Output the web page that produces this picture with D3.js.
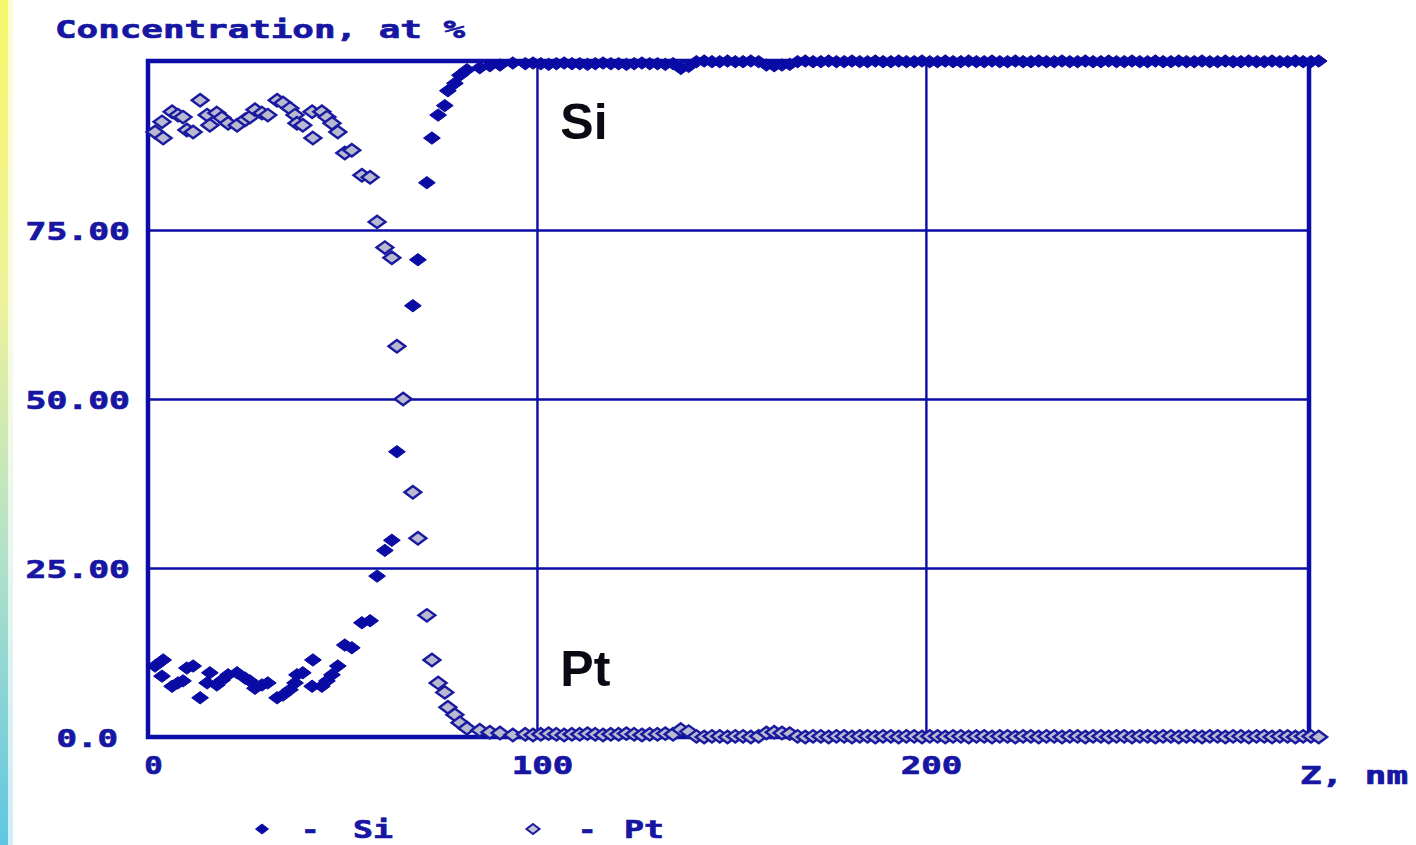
<!DOCTYPE html>
<html>
<head>
<meta charset="utf-8">
<script src="https://cdn.jsdelivr.net/npm/d3@7"></script>
<style>
  html, body { margin: 0; padding: 0; background: #ffffff; }
  svg { display: block; }
</style>
</head>
<body>
<svg id="chart" width="1416" height="845"></svg>
<script>
// Sputter depth profile of a Pt film on Si: depth (nm) and atomic concentration (at %)
const depthNm = [
  1.8, 3.6, 3.9, 6.2, 7.7, 9.0, 10.0, 11.6, 13.4, 15.2, 15.9, 17.7, 19.0, 20.6, 22.9,
  25.0, 26.2, 27.5, 29.3, 30.8, 33.2, 34.7, 36.5, 37.8, 38.3, 39.8, 42.2, 42.4, 44.7,
  46.0, 47.3, 48.8, 50.6, 52.4, 55.0, 57.1, 58.9, 60.9, 62.7, 64.0, 65.6, 68.1, 69.4,
  71.7, 73.0, 74.6, 76.3, 77.1, 78.9, 80.2, 82.0, 85.3, 87.9, 90.5, 93.8,
  97, 99, 101, 103, 105, 107, 109, 111, 113, 115, 117, 119, 121, 123, 125, 127, 129, 131, 133, 135,
  137, 139,
  141, 143, 145, 147, 149, 151, 153, 155, 157,
  159, 161, 163, 165,
  167, 169, 171, 173, 175, 177, 179, 181, 183, 185, 187, 189, 191, 193, 195, 197, 199,
  201, 203, 205, 207, 209, 211, 213, 215, 217, 219, 221, 223, 225, 227, 229, 231, 233,
  235, 237, 239, 241, 243, 245, 247, 249, 251, 253, 255, 257, 259, 261, 263, 265, 267,
  269, 271, 273, 275, 277, 279, 281, 283, 285, 287, 289, 291, 293, 295, 297, 299, 301
];

const siAt = [
  10.5, 9.0, 11.4, 7.5, 8.0, 8.3, 10.2, 10.5, 5.8, 8.0, 9.5, 7.7, 8.4, 9.2, 9.5,
  8.7, 8.3, 7.2, 7.7, 8.0, 5.8, 6.2, 7.0, 8.0, 9.2, 9.5, 7.5, 11.4, 7.5,
  8.3, 9.2, 10.5, 13.6, 13.2, 16.9, 17.2, 23.8, 27.6, 29.1, 42.2, 50.0, 63.8, 70.6,
  82.0, 88.6, 92.0, 93.4, 95.6, 96.7, 97.9, 98.7, 99.0, 99.3, 99.4, 99.7,
  99.6, 99.7, 99.6, 99.5, 99.6, 99.7, 99.6, 99.6, 99.5, 99.6, 99.7, 99.6, 99.6, 99.5, 99.6, 99.7, 99.6, 99.6, 99.5, 99.6,
  98.9, 99.2,
  99.9, 100.0, 99.9, 99.9, 100.0, 99.9, 99.9, 100.0, 99.9,
  99.4, 99.3, 99.4, 99.5,
  99.9, 100.0, 99.9, 99.9, 100.0, 99.9, 99.9, 100.0, 99.9, 99.9, 100.0, 99.9, 99.9, 100.0, 99.9, 99.9, 100.0,
  99.9, 99.9, 100.0, 99.9, 99.9, 100.0, 99.9, 99.9, 100.0, 99.9, 99.9, 100.0, 99.9, 99.9, 100.0, 99.9, 99.9,
  100.0, 99.9, 99.9, 100.0, 99.9, 99.9, 100.0, 99.9, 99.9, 100.0, 99.9, 99.9, 100.0, 99.9, 99.9, 100.0, 99.9,
  99.9, 100.0, 99.9, 99.9, 100.0, 99.9, 99.9, 100.0, 99.9, 99.9, 100.0, 99.9, 99.9, 100.0, 99.9, 99.9, 100.0
];

const ptAt = [
  89.5, 91.0, 88.6, 92.5, 92.0, 91.7, 89.8, 89.5, 94.2, 92.0, 90.5, 92.3, 91.6, 90.8, 90.5,
  91.3, 91.7, 92.8, 92.3, 92.0, 94.2, 93.8, 93.0, 92.0, 90.8, 90.5, 92.5, 88.6, 92.5,
  91.7, 90.8, 89.5, 86.4, 86.8, 83.1, 82.8, 76.2, 72.4, 70.9, 57.8, 50.0, 36.2, 29.4,
  18.0, 11.4, 8.0, 6.6, 4.4, 3.3, 2.1, 1.3, 1.0, 0.7, 0.6, 0.3,
  0.4, 0.3, 0.4, 0.5, 0.4, 0.3, 0.4, 0.4, 0.5, 0.4, 0.3, 0.4, 0.4, 0.5, 0.4, 0.3, 0.4, 0.4, 0.5, 0.4,
  1.1, 0.8,
  0.1, 0.0, 0.1, 0.1, 0.0, 0.1, 0.1, 0.0, 0.1,
  0.6, 0.7, 0.6, 0.5,
  0.1, 0.0, 0.1, 0.1, 0.0, 0.1, 0.1, 0.0, 0.1, 0.1, 0.0, 0.1, 0.1, 0.0, 0.1, 0.1, 0.0,
  0.1, 0.1, 0.0, 0.1, 0.1, 0.0, 0.1, 0.1, 0.0, 0.1, 0.1, 0.0, 0.1, 0.1, 0.0, 0.1, 0.1,
  0.0, 0.1, 0.1, 0.0, 0.1, 0.1, 0.0, 0.1, 0.1, 0.0, 0.1, 0.1, 0.0, 0.1, 0.1, 0.0, 0.1,
  0.1, 0.0, 0.1, 0.1, 0.0, 0.1, 0.1, 0.0, 0.1, 0.1, 0.0, 0.1, 0.1, 0.0, 0.1, 0.1, 0.0
];

const yTicks = [0, 25, 50, 75];
const yTickLabels = ["0.0", "25.00", "50.00", "75.00"];
const xTicks = [0, 100, 200];
const xTickLabels = ["0", "100", "200"];
const gridX = [100, 200];
const gridY = [25, 50, 75];

const titleText = "Concentration, at %";
const xAxisTitle = "Z, nm";
const seriesNames = ["Si", "Pt"];

// ---- drawing ----
const ink = "#1616a2";
const frame = "#0c0ca6";
const mono = "'DejaVu Sans Mono', 'Liberation Mono', monospace";
const pitch = 21.5;

const svg = d3.select("#chart");

// coloured strip along the left edge
const defs = svg.append("defs");
const strip = defs.append("linearGradient").attr("id", "strip")
  .attr("x1", 0).attr("y1", 0).attr("x2", 0).attr("y2", 1);
strip.append("stop").attr("offset", "0%").attr("stop-color", "#f7f76a");
strip.append("stop").attr("offset", "35%").attr("stop-color", "#eef29a");
strip.append("stop").attr("offset", "65%").attr("stop-color", "#b4e2c8");
strip.append("stop").attr("offset", "100%").attr("stop-color", "#5ec6e2");
svg.append("rect").attr("x", 0).attr("y", 0).attr("width", 8).attr("height", 845).attr("fill", "url(#strip)");
svg.append("rect").attr("x", 8).attr("y", 0).attr("width", 5).attr("height", 845).attr("fill", "url(#strip)").attr("opacity", 0.3);

const x = d3.scaleLinear().domain([0, 298.5]).range([148, 1309]);
const y = d3.scaleLinear().domain([0, 100]).range([737, 61]);

const plotW = x(298.5) - x(0);
const plotH = y(0) - y(100);

// grid lines
const gx = svg.append("g").attr("transform", `translate(0,${y(0)})`)
  .call(d3.axisBottom(x).tickValues(gridX).tickSize(-plotH).tickFormat(""));
gx.select(".domain").remove();
gx.selectAll(".tick line").attr("stroke", frame).attr("stroke-width", 2.4);

const gy = svg.append("g").attr("transform", `translate(${x(0)},0)`)
  .call(d3.axisLeft(y).tickValues(gridY).tickSize(-plotW).tickFormat(""));
gy.select(".domain").remove();
gy.selectAll(".tick line").attr("stroke", frame).attr("stroke-width", 2.4);

// frame
svg.append("rect")
  .attr("x", x(0)).attr("y", y(100))
  .attr("width", plotW).attr("height", plotH)
  .attr("fill", "none").attr("stroke", frame).attr("stroke-width", 4.5);

function styleMono(sel) {
  sel.attr("font-family", mono).attr("font-weight", "bold").attr("font-size", 25)
     .attr("fill", ink).attr("stroke", ink).attr("stroke-width", 0.7)
     .attr("lengthAdjust", "spacingAndGlyphs")
     .attr("textLength", function() { const n = this.textContent.length; return n * pitch - 3; });
}

// y tick labels
const ay = svg.append("g").attr("transform", `translate(${x(0)},0)`)
  .call(d3.axisLeft(y).tickValues(yTicks).tickFormat((d, i) => yTickLabels[i]).tickSize(0).tickPadding(18));
ay.select(".domain").remove();
ay.selectAll(".tick text").call(styleMono).attr("dy", "0.36em")
  .attr("dx", d => d === 0 ? -12 : 0);

// x tick labels
const ax = svg.append("g").attr("transform", `translate(0,${y(0)})`)
  .call(d3.axisBottom(x).tickValues(xTicks).tickFormat((d, i) => xTickLabels[i]).tickSize(0).tickPadding(28));
ax.select(".domain").remove();
ax.selectAll(".tick text").call(styleMono).attr("dy", "0.36em").attr("dx", 5);

// axis titles
svg.append("text").attr("x", 55).attr("y", 38).text(titleText).call(styleMono).attr("textLength", 410);
svg.append("text").attr("x", 1300).attr("y", 784).text(xAxisTitle).call(styleMono).attr("textLength", 108);

// markers
const diamond = "M0,-6.2L8.4,0L0,6.2L-8.4,0Z";
const rows = depthNm.map((d, i) => ({ z: d, si: siAt[i], pt: ptAt[i] }));

svg.append("g").selectAll("path").data(rows).join("path")
  .attr("d", diamond)
  .attr("transform", d => `translate(${x(d.z)},${y(d.si)})`)
  .attr("fill", "#0a0aa4").attr("stroke", "#0a0aa4").attr("stroke-width", 1);

svg.append("g").selectAll("path").data(rows).join("path")
  .attr("d", diamond)
  .attr("transform", d => `translate(${x(d.z)},${y(d.pt)})`)
  .attr("fill", "#b9b9cf").attr("stroke", "#1a1aa0").attr("stroke-width", 2.4);

// in-plot element labels
const elemFont = "'Liberation Sans', Arial, sans-serif";
svg.append("text").attr("x", x(106)).attr("y", y(88.5)).text(seriesNames[0])
  .attr("font-family", elemFont).attr("font-weight", "bold").attr("font-size", 50).attr("fill", "#0a0a14");
svg.append("text").attr("x", x(106)).attr("y", y(7.5)).text(seriesNames[1])
  .attr("font-family", elemFont).attr("font-weight", "bold").attr("font-size", 50).attr("fill", "#0a0a14");

// legend
const legend = svg.append("g");
const legY = 829;
legend.append("path").attr("d", "M0,-5L6.5,0L0,5L-6.5,0Z")
  .attr("transform", `translate(262,${legY})`).attr("fill", "#0a0aa4").attr("stroke", "#0a0aa4");
legend.append("text").attr("x", 301).attr("y", legY + 9).text("-").call(styleMono);
legend.append("text").attr("x", 353).attr("y", legY + 9).text(seriesNames[0]).call(styleMono);
legend.append("path").attr("d", "M0,-5L6.5,0L0,5L-6.5,0Z")
  .attr("transform", `translate(533,${legY})`).attr("fill", "#c4c4d6").attr("stroke", "#1a1aa0").attr("stroke-width", 2);
legend.append("text").attr("x", 578).attr("y", legY + 9).text("-").call(styleMono);
legend.append("text").attr("x", 624).attr("y", legY + 9).text(seriesNames[1]).call(styleMono);
</script>
</body>
</html>
